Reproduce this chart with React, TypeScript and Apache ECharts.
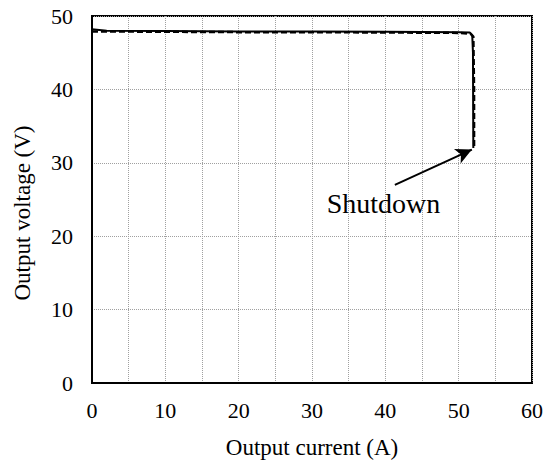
import React, { useEffect, useRef } from "react";
import * as echarts from "echarts";

const xTicks = [0, 10, 20, 30, 40, 50, 60];
const yTicks = [0, 10, 20, 30, 40, 50];

// Measured output (solid)
const measuredCurrent = [0, 2, 10, 20, 30, 40, 50, 51.5, 51.85, 51.95, 52.0];
const measuredVoltage = [48.2, 48.0, 47.95, 47.9, 47.9, 47.85, 47.8, 47.75, 47.4, 45.0, 32.0];

// Second trace (dashed)
const dashedCurrent = [0, 10, 20, 30, 40, 50, 51.6, 52.0, 52.1, 52.1];
const dashedVoltage = [47.9, 47.85, 47.8, 47.8, 47.75, 47.7, 47.6, 47.2, 40.0, 32.3];

const arrowFrom = [41.3, 27.0];
const arrowTo = [51.8, 31.8];
const labelAt = [39.75, 24.4];
const labelText = "Shutdown";

const FONT = '"Liberation Serif", "Times New Roman", serif';

export default function App() {
  const ref = useRef<HTMLDivElement>(null);
  useEffect(() => {
    if (!ref.current) return;
    const chart = echarts.init(ref.current, undefined, { renderer: "svg" });
    const solid = measuredCurrent.map((x, i) => [x, measuredVoltage[i]]);
    const dashed = dashedCurrent.map((x, i) => [x, dashedVoltage[i]]);
    chart.setOption({
      animation: false,
      backgroundColor: "#fff",
      textStyle: { fontFamily: FONT, color: "#000" },
      grid: {
        left: 92,
        right: 14,
        top: 16,
        bottom: 86,
        show: true,
        borderColor: "#000",
        borderWidth: 2,
        backgroundColor: "transparent",
      },
      xAxis: {
        type: "value",
        min: xTicks[0],
        max: xTicks[xTicks.length - 1],
        interval: 10,
        name: "Output current (A)",
        nameLocation: "middle",
        nameGap: 53,
        nameTextStyle: { fontFamily: FONT, fontSize: 23, color: "#000" },
        axisLine: { show: true, lineStyle: { color: "#000", width: 2 } },
        axisTick: { show: false },
        axisLabel: { fontFamily: FONT, fontSize: 22, color: "#000", margin: 16 },
        splitLine: { show: true, lineStyle: { color: "#a0a0a0", type: "dotted", width: 1 } },
        minorTick: { show: false, splitNumber: 2 },
        minorSplitLine: { show: true, lineStyle: { color: "#a0a0a0", type: "dotted", width: 1 } },
      },
      yAxis: {
        type: "value",
        min: yTicks[0],
        max: yTicks[yTicks.length - 1],
        interval: 10,
        axisLine: { show: true, lineStyle: { color: "#000", width: 2 } },
        axisTick: { show: false },
        axisLabel: { fontFamily: FONT, fontSize: 22, color: "#000", margin: 19 },
        splitLine: { show: true, lineStyle: { color: "#a0a0a0", type: "dotted", width: 1 } },
      },
      graphic: [
        {
          type: "text",
          x: 22,
          y: 213,
          rotation: Math.PI / 2,
          style: {
            text: "Output voltage (V)",
            fontFamily: FONT,
            fontSize: 23,
            fill: "#000",
            align: "center",
            verticalAlign: "middle",
          },
        },
      ],
      series: [
        {
          type: "line",
          data: dashed,
          showSymbol: false,
          symbol: "none",
          smooth: false,
          lineStyle: { color: "#000", width: 2.5, type: [6, 3] },
          z: 3,
        },
        {
          type: "line",
          data: solid,
          showSymbol: false,
          symbol: "none",
          lineStyle: { color: "#000", width: 2 },
          z: 4,
          markLine: {
            silent: true,
            symbol: ["none", "arrow"],
            symbolSize: [12, 16],
            label: { show: false },
            lineStyle: { color: "#000", width: 2, type: "solid" },
            data: [[{ coord: arrowFrom }, { coord: arrowTo }]],
          },
          markPoint: {
            silent: true,
            symbol: "circle",
            symbolSize: 1,
            itemStyle: { color: "transparent" },
            label: {
              show: true,
              position: "inside",
              formatter: labelText,
              fontFamily: FONT,
              fontSize: 28,
              color: "#000",
            },
            data: [{ coord: labelAt }],
          },
        },
      ],
    });
    return () => chart.dispose();
  }, []);
  return (
    <div
      ref={ref}
      style={{ position: "absolute", left: 0, top: 0, width: 546, height: 469, background: "#fff" }}
    />
  );
}
